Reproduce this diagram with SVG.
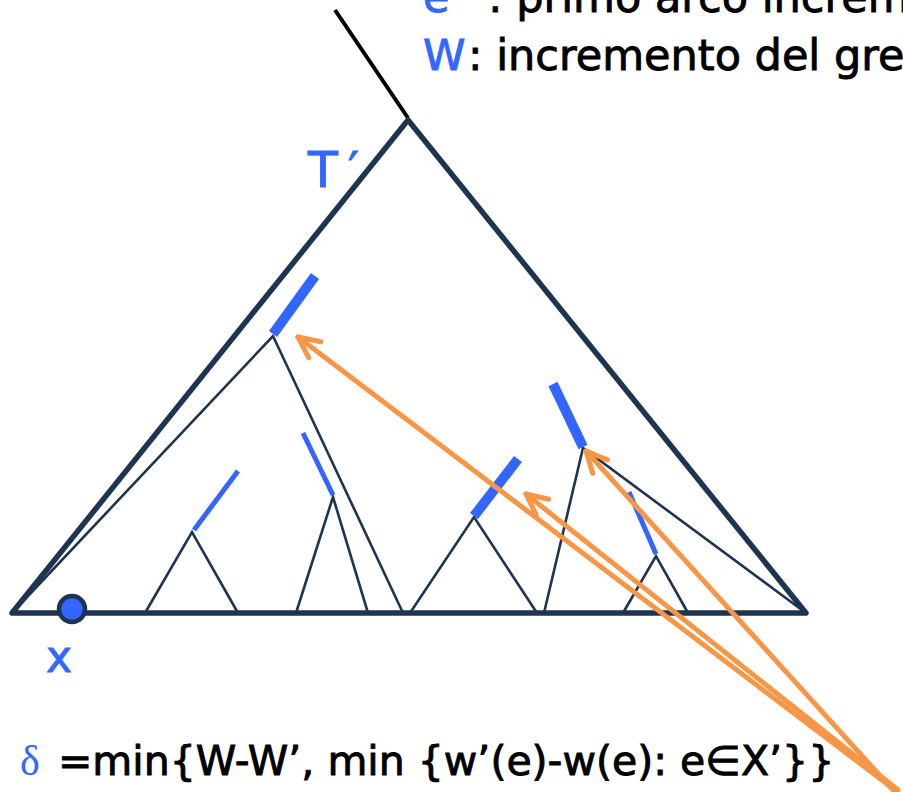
<svg xmlns="http://www.w3.org/2000/svg" width="903" height="792" viewBox="0 0 903 792">
<style>
.thin{stroke:#1d3550;stroke-width:2.6;fill:none;stroke-linecap:round}
.thick{stroke:#1d3550;stroke-width:5.5;fill:none;stroke-linejoin:round;stroke-linecap:round}
.bt{stroke:#3366ff;stroke-width:5;stroke-linecap:butt}
.bT{stroke:#3366ff;stroke-width:10;stroke-linecap:butt}
.arr{stroke:#f79646;stroke-width:5;fill:none;stroke-linecap:round;marker-end:url(#ah)}
.txt{font-family:"DejaVu Sans",sans-serif;fill:#000;stroke:#000;stroke-width:0.9}
.blue{fill:#3366ff;stroke:#3366ff}
</style>
<defs>
<marker id="ah" markerUnits="userSpaceOnUse" markerWidth="40" markerHeight="40" viewBox="-30 -20 40 40" refX="0" refY="0" orient="auto">
<path d="M-21,-10 L0,0 L-21,10" fill="none" stroke="#f79646" stroke-width="5" stroke-linecap="round" stroke-linejoin="round"/>
</marker>
</defs>
<g id="texts">
<text class="txt blue" x="423" y="12" font-size="43">e</text>
<text class="txt" x="488" y="12" font-size="43">: primo arco incremen</text>
<text class="txt blue" x="423" y="70" font-size="43">W</text>
<text class="txt" x="468" y="70" font-size="43">: incremento del gre</text>
<text class="txt blue" x="308" y="187" font-size="49">T<tspan dx="10">′</tspan></text>
<text class="txt blue" x="46" y="672" font-size="44">x</text>
<text x="20" y="775" font-family="Liberation Serif,serif" font-size="42" fill="#3366ff">δ</text>
<text class="txt" x="58" y="775" font-size="41">=min{W-W’, min {w’(e)-w(e): e∈X’}}</text>
</g>
<g id="stem"><line x1="335" y1="10" x2="408" y2="118" stroke="#000" stroke-width="4"/></g>
<g id="subtrees">
<polyline class="thin" points="145,613 192,532 238,613"/>
<polyline class="thin" points="296,613 333,497 368,613"/>
<polyline class="thin" points="12,613 273,336 403,613"/>
<polyline class="thin" points="410,613 474,517 537,613"/>
<polyline class="thin" points="544,613 583,448 806,613"/>
<polyline class="thin" points="623,613 656,556 688,613"/>
</g>
<g id="edges">
<line class="bt" x1="194" y1="530" x2="238" y2="471"/>
<line class="bt" x1="333" y1="495" x2="303" y2="433"/>
<line class="bT" x1="273" y1="334" x2="315" y2="276"/>
<line class="bT" x1="474" y1="516" x2="518" y2="459"/>
<line class="bT" x1="583" y1="447" x2="553" y2="384"/>
<line class="bt" x1="656" y1="554" x2="629" y2="492"/>
</g>
<g id="tree">
<polygon class="thick" points="408,120 806,613 12,613"/>
</g>
<g id="x-node"><circle cx="72" cy="609" r="13" fill="#3366ff" stroke="#1d3550" stroke-width="4.5"/></g>
<g id="connectors">
<line class="arr" x1="895" y1="790" x2="298" y2="337"/>
<line class="arr" x1="898" y1="790" x2="526" y2="494"/>
<line class="arr" x1="893" y1="790" x2="586" y2="451"/>
</g>
</svg>
